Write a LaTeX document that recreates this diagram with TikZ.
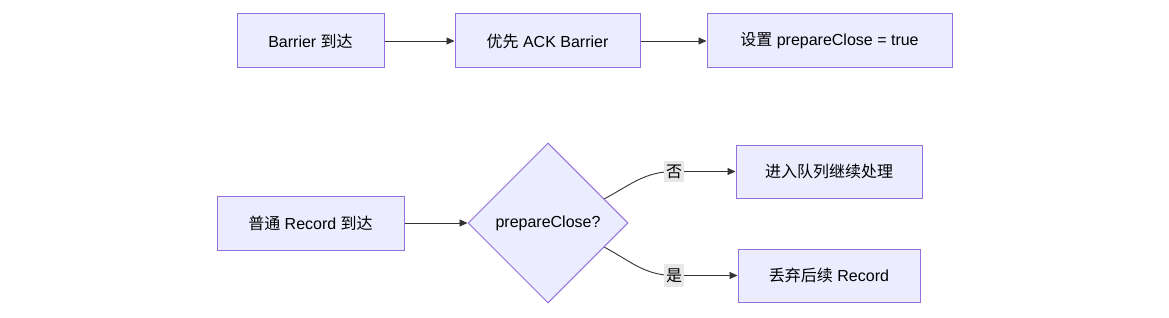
\documentclass[tikz,border=0pt]{standalone}
\usepackage{fontspec}
\setmainfont{Liberation Sans}
\newfontfamily\cjk{Noto Sans CJK SC}
\usetikzlibrary{arrows.meta,shapes.geometric,calc}
\definecolor{boxfill}{HTML}{ECECFF}
\definecolor{boxline}{HTML}{9370DB}
\definecolor{edge}{HTML}{333333}
\definecolor{lblbg}{HTML}{E8E8E8}
\tikzset{
  procbox/.style={draw=boxline,fill=boxfill,line width=1pt,minimum height=54pt,inner sep=0pt,font=\fontsize{16}{19}\selectfont,text=black},
  decbox/.style={draw=boxline,fill=boxfill,line width=1pt,diamond,minimum width=160pt,minimum height=160pt,inner sep=0pt,font=\fontsize{16}{19}\selectfont},
  conn/.style={draw=edge,line width=0.9pt,-{Triangle[length=8pt,width=7pt]}},
  elabel/.style={fill=lblbg,inner xsep=2pt,inner ysep=4pt,font=\fontsize{16}{19}\selectfont\cjk}
}
\begin{document}
\begin{tikzpicture}[x=1pt,y=-1pt]
\useasboundingbox (0,0) rectangle (1169,318);
\node[procbox,minimum width=147pt] (b1) at (310.5,41) {Barrier {\cjk 到达}};
\node[procbox,minimum width=185pt] (b2) at (547.5,41) {{\cjk 优先} ACK Barrier};
\node[procbox,minimum width=245pt] (b3) at (829.5,41) {{\cjk 设置} prepareClose = true};
\node[procbox,minimum width=187pt] (b4) at (310.5,223) {{\cjk 普通} Record {\cjk 到达}};
\node[decbox] (d) at (548,223) {prepareClose?};
\node[procbox,minimum width=186pt,minimum height=53pt] (b5) at (829,171.5) {\cjk 进入队列继续处理};
\node[procbox,minimum width=182pt,minimum height=53pt] (b6) at (829,275.5) {{\cjk 丢弃后续} Record};
\draw[conn] (b1.east) -- (b2.west);
\draw[conn] (b2.east) -- (b3.west);
\draw[conn] (b4.east) -- (d.west);
\coordinate (s1) at ($(d.north)!0.7!(d.east)$);
\coordinate (s2) at ($(d.south)!0.7!(d.east)$);
\coordinate (l1) at (674,171.5);
\coordinate (l2) at (674,275.5);
\draw[conn] (s1) to[out=28,in=180] (l1) -- (b5.west);
\draw[conn] (s2) to[out=-28,in=180] (l2) -- (b6.west);
\node[elabel] (n1) at (l1) {否};
\node[elabel] (n2) at (l2) {是};
\end{tikzpicture}
\end{document}
